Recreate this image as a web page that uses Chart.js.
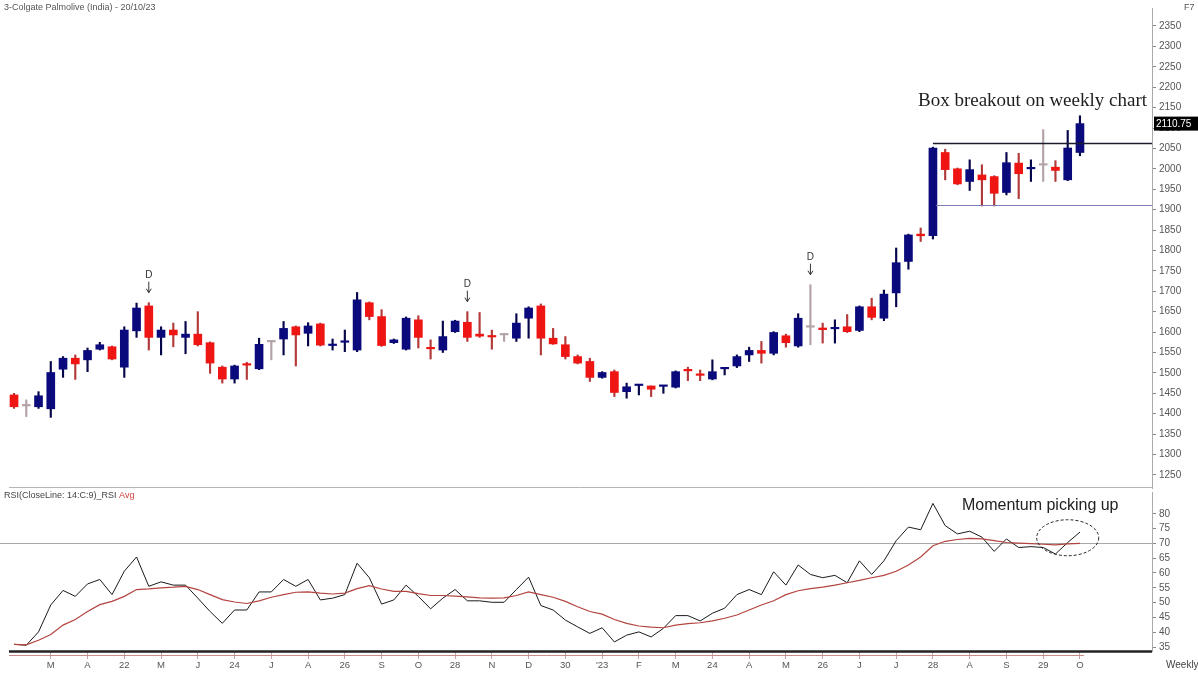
<!DOCTYPE html>
<html>
<head>
<meta charset="utf-8">
<script src="https://cdn.jsdelivr.net/npm/chart.js@4.4.0/dist/chart.umd.min.js"></script>
<style>
  html, body { margin: 0; padding: 0; background: #fff; }
  #wrap { position: relative; width: 1198px; height: 675px; overflow: hidden; }
  #priceChart { position: absolute; left: 0; top: 0; }
  #rsiChart { position: absolute; left: 0; top: 490px; }
</style>
</head>
<body>
<div id="wrap">
  <canvas id="priceChart" width="1198" height="490"></canvas>
  <canvas id="rsiChart" width="1198" height="185"></canvas>
</div>
<script>
// weekly candles, index 0..87
const opens = [
  1446, 1419, 1417, 1412, 1509, 1536, 1532, 1558, 1564, 1514,
  1603, 1664, 1587, 1605, 1587, 1595, 1574, 1514, 1485, 1522,
  1510, 1576, 1583, 1613, 1597, 1620, 1567, 1575, 1556, 1672,
  1638, 1574, 1558, 1630, 1562, 1556, 1601, 1624, 1595, 1590,
  1593, 1585, 1634, 1664, 1585, 1569, 1540, 1528, 1489, 1503,
  1454, 1469, 1468, 1467, 1465, 1508, 1497, 1485, 1510, 1517,
  1544, 1555, 1548, 1591, 1566, 1612, 1610, 1608, 1613, 1604,
  1662, 1634, 1696, 1773, 1840, 1836, 2040, 2000, 1969, 1985,
  1981, 1942, 2014, 2000, 2009, 2004, 1973, 2040,
];
const highs = [
  1450, 1434, 1454, 1528, 1540, 1544, 1561, 1575, 1566, 1613,
  1671, 1672, 1613, 1622, 1626, 1650, 1576, 1517, 1519, 1526,
  1585, 1579, 1626, 1615, 1623, 1622, 1583, 1605, 1697, 1674,
  1655, 1583, 1637, 1640, 1581, 1627, 1629, 1650, 1648, 1605,
  1597, 1645, 1662, 1669, 1609, 1589, 1544, 1536, 1503, 1507,
  1475, 1471, 1468, 1468, 1505, 1514, 1507, 1532, 1512, 1544,
  1563, 1577, 1601, 1595, 1645, 1716, 1622, 1630, 1643, 1664,
  1683, 1703, 1806, 1840, 1855, 2053, 2048, 2002, 2022, 2010,
  1983, 2040, 2038, 2022, 2096, 2020, 2094, 2130,
];
const lows = [
  1413, 1393, 1413, 1391, 1489, 1484, 1503, 1556, 1532, 1489,
  1587, 1556, 1544, 1564, 1547, 1566, 1499, 1475, 1475, 1484,
  1508, 1532, 1544, 1517, 1566, 1566, 1556, 1552, 1552, 1630,
  1565, 1572, 1556, 1561, 1534, 1550, 1599, 1577, 1587, 1558,
  1577, 1577, 1585, 1544, 1570, 1534, 1522, 1479, 1487, 1442,
  1438, 1446, 1442, 1450, 1463, 1481, 1481, 1483, 1495, 1513,
  1528, 1524, 1544, 1563, 1563, 1569, 1573, 1573, 1599, 1601,
  1630, 1628, 1662, 1754, 1822, 1828, 1973, 1961, 1947, 1909,
  1909, 1936, 1927, 1969, 1969, 1969, 1971, 2032,
];
const closes = [
  1417, 1419, 1444, 1501, 1536, 1522, 1555, 1569, 1534, 1605,
  1659, 1587, 1605, 1593, 1595, 1569, 1524, 1485, 1517, 1519,
  1570, 1576, 1609, 1593, 1615, 1568, 1568, 1576, 1679, 1638,
  1567, 1581, 1634, 1587, 1559, 1589, 1627, 1587, 1590, 1588,
  1593, 1622, 1659, 1585, 1571, 1540, 1524, 1489, 1501, 1452,
  1466, 1470, 1460, 1468, 1503, 1505, 1494, 1503, 1512, 1540,
  1555, 1548, 1599, 1574, 1634, 1612, 1606, 1610, 1601, 1662,
  1636, 1693, 1770, 1838, 1836, 2051, 1998, 1963, 1998, 1973,
  1940, 2015, 1988, 2003, 2009, 1996, 2051, 2110.75,
];

const rsiValues = [
  35.9, 35.6, 40.1, 49.2, 54.1, 52.1, 56.3, 57.8, 52.7, 60.6,
  65.4, 55.5, 57.0, 55.9, 55.9, 51.5, 47.0, 43.0, 47.5, 47.5,
  53.6, 53.6, 57.8, 55.5, 57.8, 50.9, 51.5, 52.7, 63.3, 58.4,
  49.5, 50.9, 55.9, 52.1, 47.9, 51.5, 54.4, 50.6, 50.6, 50.1,
  50.1, 54.4, 58.6, 49.0, 47.5, 44.1, 41.8, 39.6, 41.5, 36.7,
  39.0, 40.1, 38.4, 41.3, 45.6, 45.6, 43.8, 46.4, 48.1, 52.7,
  54.4, 52.7, 60.4, 55.9, 62.7, 59.5, 58.4, 59.2, 56.7, 64.1,
  59.5, 64.1, 70.9, 75.5, 74.6, 83.5, 76.0, 73.2, 74.1, 72.1,
  67.3, 71.5, 68.6, 68.9, 68.6, 66.4, 70.3, 73.8,
];
const rsiAvg = [
  35.9, 35.7, 37.3, 39.2, 42.4, 44.3, 47.0, 49.3, 50.4, 52.1,
  54.4, 54.6, 55.0, 55.2, 55.5, 54.4, 52.7, 51.0, 50.2, 49.7,
  50.6, 51.8, 52.7, 53.5, 53.6, 53.2, 52.9, 53.2, 54.7, 55.7,
  54.6, 53.8, 53.8, 53.0, 52.4, 52.4, 52.2, 51.9, 51.6, 51.5,
  51.6, 52.4, 53.6, 52.7, 51.8, 50.4, 48.6, 47.0, 46.1, 44.3,
  43.0, 42.1, 41.7, 41.5, 42.4, 42.9, 43.2, 43.8, 44.7, 45.8,
  47.5, 49.2, 50.6, 52.7, 54.0, 54.7, 55.2, 55.9, 56.7, 57.5,
  58.4, 59.2, 60.6, 62.7, 65.4, 69.2, 70.7, 71.3, 71.7, 71.5,
  70.9, 70.3, 70.1, 69.9, 69.7, 69.5, 69.8, 70.0,
];

const xTickIndex = [3, 6, 9, 12, 15, 18, 21, 24, 27, 30, 33, 36, 39, 42, 45, 48, 51, 54, 57, 60, 63, 66, 69, 72, 75, 78, 81, 84, 87];
const xTickLabels = ['M', 'A', '22', 'M', 'J', '24', 'J', 'A', '26', 'S', 'O', '28', 'N', 'D', '30', "'23", 'F', 'M', '24', 'A', 'M', '26', 'J', 'J', '28', 'A', 'S', '29', 'O'];
const priceTicks = [1250, 1300, 1350, 1400, 1450, 1500, 1550, 1600, 1650, 1700, 1750, 1800, 1850, 1900, 1950, 2000, 2050, 2100, 2150, 2200, 2250, 2300, 2350];
const rsiTicks = [35, 40, 45, 50, 55, 60, 65, 70, 75, 80];

const dividendIdx = [11, 37, 65];
const boxTop = 2064;
const boxBottom = 1912;
const boxStartIdx = 75;
const rsiLevel = 70;

const X_MIN = -0.41;
const X_MAX = 92.88;
const AXIS_W = 46;
const FONT = '"Liberation Sans", Arial, sans-serif';

const BULL = '#0a0a7c';
const BEAR = '#ee1512';
const FLAT = '#b3a3a6';

function candleColor(i) {
  if (closes[i] === opens[i] && (i === 1 || i === 21 || i === 40 || i === 65 || i === 84)) return FLAT;
  return closes[i] >= opens[i] ? BULL : BEAR;
}

function wickColor(i) {
  const c = candleColor(i);
  if (c === BULL) return '#06064a';
  if (c === BEAR) return '#b23a3a';
  return FLAT;
}

function fixAxis(width) {
  return (scale) => {
    if (width) scale.width = width;
    scale.paddingTop = 0;
    scale.paddingBottom = 0;
  };
}

function setTicks(values) {
  return (scale) => {
    scale.ticks = values.map((value) => ({ value }));
  };
}

const priceDecor = {
  id: 'priceDecor',
  afterDraw(chart) {
    const { ctx, chartArea, scales } = chart;
    const x = scales.x;
    const y = scales.y;
    ctx.save();

    ctx.font = `9px ${FONT}`;
    ctx.fillStyle = '#555';
    ctx.textBaseline = 'middle';
    ctx.textAlign = 'left';
    ctx.fillText('3-Colgate Palmolive (India) - 20/10/23', 4, 8);
    ctx.fillText('F7', 1184, 8);

    // separator under the price panel
    ctx.strokeStyle = '#b5b5b5';
    ctx.lineWidth = 1;
    ctx.beginPath();
    ctx.moveTo(chartArea.left, chartArea.bottom - 0.5);
    ctx.lineTo(chartArea.right, chartArea.bottom - 0.5);
    ctx.stroke();

    // box range
    const bx = x.getPixelForValue(boxStartIdx);
    ctx.strokeStyle = '#1c1c30';
    ctx.lineWidth = 1.5;
    ctx.beginPath();
    ctx.moveTo(bx, Math.round(y.getPixelForValue(boxTop)) + 0.5);
    ctx.lineTo(chartArea.right, Math.round(y.getPixelForValue(boxTop)) + 0.5);
    ctx.stroke();
    ctx.strokeStyle = '#7d7db4';
    ctx.lineWidth = 1;
    ctx.beginPath();
    ctx.moveTo(bx + 3, Math.round(y.getPixelForValue(boxBottom)) + 0.5);
    ctx.lineTo(chartArea.right, Math.round(y.getPixelForValue(boxBottom)) + 0.5);
    ctx.stroke();

    // dividend markers
    ctx.fillStyle = '#333';
    ctx.strokeStyle = '#333';
    ctx.textAlign = 'center';
    ctx.font = `10px ${FONT}`;
    dividendIdx.forEach((i) => {
      const px = x.getPixelForValue(i);
      const py = y.getPixelForValue(highs[i]);
      ctx.fillText('D', px, py - 27);
      ctx.beginPath();
      ctx.moveTo(px, py - 21);
      ctx.lineTo(px, py - 10);
      ctx.moveTo(px - 2.5, py - 14);
      ctx.lineTo(px, py - 10);
      ctx.lineTo(px + 2.5, py - 14);
      ctx.stroke();
    });

    ctx.font = `19px "Liberation Serif", "DejaVu Serif", serif`;
    ctx.fillStyle = '#1e1e1e';
    ctx.textAlign = 'left';
    ctx.fillText('Box breakout on weekly chart', 918, 101);

    // last price tag
    const last = closes[closes.length - 1];
    const ly = y.getPixelForValue(last);
    ctx.fillStyle = '#000';
    ctx.fillRect(chartArea.right + 2, ly - 7, 44, 14);
    ctx.fillStyle = '#fff';
    ctx.font = `10px ${FONT}`;
    ctx.fillText(last.toFixed(2), chartArea.right + 4, ly + 0.5);
    ctx.restore();
  },
};

const rsiDecor = {
  id: 'rsiDecor',
  beforeDatasetsDraw(chart) {
    const { ctx, chartArea, scales } = chart;
    const py = Math.round(scales.y.getPixelForValue(rsiLevel)) + 0.5;
    ctx.save();
    ctx.strokeStyle = '#a8a8a8';
    ctx.lineWidth = 1;
    ctx.beginPath();
    ctx.moveTo(0, py);
    ctx.lineTo(chartArea.right, py);
    ctx.stroke();
    ctx.restore();
  },
  afterDraw(chart) {
    const { ctx, chartArea, scales } = chart;
    const x = scales.x;
    const y = scales.y;
    ctx.save();

    ctx.font = `9px ${FONT}`;
    ctx.textBaseline = 'middle';
    ctx.textAlign = 'left';
    const label = 'RSI(CloseLine: 14:C:9)_RSI';
    ctx.fillStyle = '#444';
    ctx.fillText(label, 4, 6);
    ctx.fillStyle = '#d04040';
    ctx.fillText(' Avg', 4 + ctx.measureText(label).width, 6);

    // bottom rules
    ctx.strokeStyle = '#222';
    ctx.lineWidth = 2.5;
    ctx.beginPath();
    ctx.moveTo(chartArea.left, chartArea.bottom + 0.5);
    ctx.lineTo(chartArea.right, chartArea.bottom + 0.5);
    ctx.stroke();
    ctx.strokeStyle = '#c98a8a';
    ctx.lineWidth = 1;
    ctx.beginPath();
    ctx.moveTo(chartArea.left, chartArea.bottom + 4.5);
    ctx.lineTo(x.getPixelForValue(87) + 4, chartArea.bottom + 4.5);
    ctx.stroke();

    // momentum ellipse
    const cx = x.getPixelForValue(86);
    const cy = y.getPixelForValue(71.9);
    ctx.strokeStyle = '#222';
    ctx.setLineDash([3, 2]);
    ctx.beginPath();
    ctx.ellipse(cx, cy, 31, 18, 0, 0, Math.PI * 2);
    ctx.stroke();
    ctx.setLineDash([]);

    ctx.font = `16px ${FONT}`;
    ctx.fillStyle = '#222';
    ctx.fillText('Momentum picking up', 962, 16);

    ctx.font = `10px ${FONT}`;
    ctx.fillStyle = '#444';
    ctx.fillText('Weekly', 1166, chartArea.bottom + 14);
    ctx.restore();
  },
};

const candleIdx = opens.map((_, i) => i);

new Chart(document.getElementById('priceChart'), {
  type: 'bar',
  data: {
    datasets: [
      {
        data: candleIdx.map((i) => ({ x: i, y: [lows[i], highs[i]] })),
        backgroundColor: (ctx) => wickColor(ctx.dataIndex),
        barThickness: 1.5,
        grouped: false,
        order: 2,
      },
      {
        data: candleIdx.map((i) => ({ x: i, y: [opens[i], closes[i]] })),
        backgroundColor: (ctx) => candleColor(ctx.dataIndex),
        barThickness: 8,
        minBarLength: 1.5,
        grouped: false,
        order: 1,
      },
    ],
  },
  options: {
    responsive: false,
    animation: false,
    devicePixelRatio: 1,
    layout: { padding: { left: 9, top: 8, right: 0, bottom: 2 } },
    plugins: { legend: { display: false }, tooltip: { enabled: false } },
    scales: {
      x: { type: 'linear', min: X_MIN, max: X_MAX, offset: false, display: false },
      y: {
        position: 'right',
        min: 1218,
        max: 2394,
        afterBuildTicks: setTicks(priceTicks),
        afterFit: fixAxis(AXIS_W),
        grid: { drawOnChartArea: false, tickLength: 4, color: '#888' },
        border: { color: '#aaa' },
        ticks: { color: '#555', font: { family: FONT, size: 10 }, padding: 3, callback: (value) => String(value) },
      },
    },
  },
  plugins: [priceDecor],
});

new Chart(document.getElementById('rsiChart'), {
  type: 'line',
  data: {
    datasets: [
      {
        data: candleIdx.map((i) => ({ x: i, y: rsiAvg[i] })),
        borderColor: '#b3443f',
        borderWidth: 1.2,
        pointRadius: 0,
        tension: 0,
      },
      {
        data: candleIdx.map((i) => ({ x: i, y: rsiValues[i] })),
        borderColor: '#1a1a1a',
        borderWidth: 1,
        pointRadius: 0,
        tension: 0,
      },
    ],
  },
  options: {
    responsive: false,
    animation: false,
    devicePixelRatio: 1,
    layout: { padding: { left: 9, top: 2, right: 0, bottom: 0 } },
    plugins: { legend: { display: false }, tooltip: { enabled: false } },
    scales: {
      x: {
        type: 'linear',
        min: X_MIN,
        max: X_MAX,
        offset: false,
        afterBuildTicks: setTicks(xTickIndex),
        afterFit: (scale) => {
          scale.height = 24;
          scale.paddingLeft = 0;
          scale.paddingRight = 0;
        },
        grid: { drawOnChartArea: false, tickLength: 8, color: '#c2a8a8' },
        border: { display: false },
        ticks: {
          color: '#555',
          font: { family: FONT, size: 9.5 },
          padding: 1,
          autoSkip: false,
          maxRotation: 0,
          callback: (value) => xTickLabels[xTickIndex.indexOf(value)] ?? '',
        },
      },
      y: {
        position: 'right',
        min: 33.65,
        max: 87.35,
        afterBuildTicks: setTicks(rsiTicks),
        afterFit: fixAxis(AXIS_W),
        grid: { drawOnChartArea: false, tickLength: 4, color: '#888' },
        border: { color: '#aaa' },
        ticks: { color: '#555', font: { family: FONT, size: 10 }, padding: 3 },
      },
    },
  },
  plugins: [rsiDecor],
});
</script>
</body>
</html>
